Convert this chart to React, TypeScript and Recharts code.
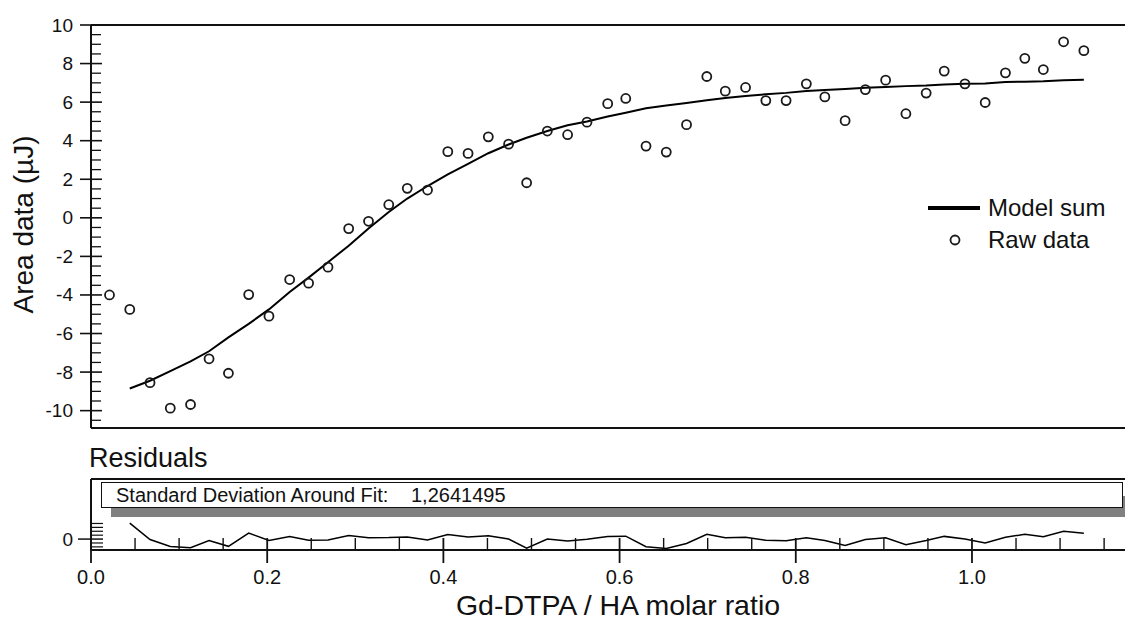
import React from 'react';
import {
  ComposedChart,
  LineChart,
  Line,
  Scatter,
  XAxis,
  YAxis,
  ReferenceLine,
  Legend,
} from 'recharts';

// ---------- data ----------
const ratioX = [
  0.021, 0.044, 0.067, 0.09, 0.113, 0.134, 0.156, 0.179, 0.202, 0.2255,
  0.247, 0.269, 0.2925, 0.315, 0.338, 0.359, 0.382, 0.405, 0.428, 0.451,
  0.474, 0.4945, 0.518, 0.541, 0.563, 0.5865, 0.607, 0.63, 0.653, 0.676,
  0.699, 0.72, 0.743, 0.766, 0.789, 0.812, 0.833, 0.856, 0.879, 0.902,
  0.925, 0.948, 0.9685, 0.992, 1.015, 1.038, 1.06, 1.081, 1.104, 1.127,
];

const rawArea = [
  -4.0, -4.75, -8.55, -9.87, -9.68, -7.31, -8.06, -3.98, -5.1, -3.2,
  -3.39, -2.56, -0.56, -0.18, 0.68, 1.53, 1.44, 3.43, 3.34, 4.2,
  3.82, 1.82, 4.5, 4.31, 4.96, 5.92, 6.19, 3.72, 3.41, 4.83,
  7.33, 6.57, 6.76, 6.08, 6.08, 6.95, 6.27, 5.04, 6.65, 7.14,
  5.4, 6.47, 7.61, 6.95, 5.98, 7.52, 8.27, 7.69, 9.13, 8.67,
];

const modelSum = [
  null, -8.85, -8.45, -7.95, -7.45, -6.92, -6.2, -5.5, -4.75, -3.85,
  -3.1, -2.3, -1.45, -0.55, 0.3, 1.0, 1.65, 2.25, 2.8, 3.35,
  3.8, 4.15, 4.5, 4.8, 5.0, 5.25, 5.45, 5.68, 5.82, 5.95,
  6.1, 6.22, 6.32, 6.41, 6.48, 6.58, 6.63, 6.68, 6.75, 6.79,
  6.83, 6.86, 6.92, 6.95, 6.97, 7.04, 7.06, 7.08, 7.14, 7.16,
];

const residuals = [
  null, 4.1, -0.1, -1.92, -2.23, -0.39, -1.86, 1.52, -0.35, 0.65,
  -0.29, -0.26, 0.89, 0.37, 0.38, 0.53, -0.21, 1.18, 0.54, 0.85,
  0.02, -2.33, 0, -0.49, -0.04, 0.67, 0.74, -1.96, -2.41, -1.12,
  1.23, 0.35, 0.44, -0.33, -0.4, 0.37, -0.36, -1.64, -0.1, 0.35,
  -1.43, -0.39, 0.69, 0, -0.99, 0.48, 1.21, 0.61, 1.99, 1.51,
];

const yMajorTicks = [-10, -8, -6, -4, -2, 0, 2, 4, 6, 8, 10];
const yMinorTicks = [
  -10.5, -9.5, -9, -8.5, -7.5, -7, -6.5, -5.5, -5, -4.5, -3.5, -3, -2.5,
  -1.5, -1, -0.5, 0.5, 1, 1.5, 2.5, 3, 3.5, 4.5, 5, 5.5, 6.5, 7, 7.5, 8.5,
  9, 9.5,
];
const xMajorTicks = [0, 0.2, 0.4, 0.6, 0.8, 1.0];
const xMinorTicks = [
  0.05, 0.1, 0.15, 0.25, 0.3, 0.35, 0.45, 0.5, 0.55, 0.65, 0.7, 0.75, 0.85,
  0.9, 0.95, 1.05, 1.1, 1.15,
];
const resMajorTicks = [0];
const resMinorTicks = [-2, -1, 1, 2, 3, 4];

const xDomain = [0, 1.1737];
const yDomain = [-10.9, 10];
const resDomain = [-2.8, 15.4];

const sdLabel = 'Standard Deviation Around Fit:';
const sdValue = '1,2641495';

const mainRows = ratioX.map((x, i) => ({ x, raw: rawArea[i], model: modelSum[i] }));
const resRows = ratioX.map((x, i) => ({ x, res: residuals[i] }));

// ---------- styling helpers ----------
const FONT = "'Liberation Sans', Arial, Helvetica, sans-serif";
const INK = '#111';
const has = (arr: number[], v: number) => arr.some((m) => Math.abs(m - v) < 1e-9);

const MainYTick = (props: any) => {
  const { x, y, payload } = props;
  const ax = x + 18;
  const v = payload.value;
  if (has(yMajorTicks, v)) {
    return (
      <g>
        <line x1={ax - 11} x2={ax + 11} y1={y} y2={y} stroke={INK} strokeWidth={1.6} />
        <text x={x} y={y} textAnchor="end" dominantBaseline="central" fontSize={19} fontFamily={FONT} fill={INK}>
          {String(v)}
        </text>
      </g>
    );
  }
  return <line x1={ax} x2={ax + 10} y1={y} y2={y} stroke={INK} strokeWidth={1.3} />;
};

const ResYTick = (props: any) => {
  const { x, y, payload } = props;
  const ax = x + 18;
  const v = payload.value;
  if (has(resMajorTicks, v)) {
    return (
      <g>
        <line x1={ax - 13} x2={ax + 12} y1={y} y2={y} stroke={INK} strokeWidth={1.5} />
        <text x={x} y={y} textAnchor="end" dominantBaseline="central" fontSize={19} fontFamily={FONT} fill={INK}>
          {String(v)}
        </text>
      </g>
    );
  }
  return <line x1={ax} x2={ax + 12} y1={y} y2={y} stroke={INK} strokeWidth={1.2} />;
};

const ResXTick = (props: any) => {
  const { x, y, payload } = props;
  const ay = y - 20;
  const v = payload.value;
  if (has(xMajorTicks, v)) {
    return (
      <g>
        <line x1={x} x2={x} y1={ay - 12} y2={ay + 13} stroke={INK} strokeWidth={1.8} />
        <text x={x} y={ay + 27} textAnchor="middle" dominantBaseline="central" fontSize={20} fontFamily={FONT} fill={INK}>
          {v.toFixed(1)}
        </text>
      </g>
    );
  }
  return <line x1={x} x2={x} y1={ay - 12} y2={ay} stroke={INK} strokeWidth={1.4} />;
};

const YTitle = (props: any) => {
  const vb = props.viewBox || { x: 0, y: 25, width: 91, height: 403 };
  const cx = vb.x + 23;
  const cy = vb.y + vb.height / 2 - 2;
  return (
    <text x={cx} y={cy} transform={`rotate(-90 ${cx} ${cy})`} textAnchor="middle" dominantBaseline="central" fontSize={28} fontFamily={FONT} fill={INK}>
      Area data (µJ)
    </text>
  );
};

const XTitle = (props: any) => {
  const vb = props.viewBox || { x: 91, y: 110, width: 1034, height: 81 };
  return (
    <text x={vb.x + vb.width / 2 + 10} y={vb.y + 65} textAnchor="middle" fontSize={28.5} fontFamily={FONT} fill={INK}>
      Gd-DTPA / HA molar ratio
    </text>
  );
};

const ResTitle = (props: any) => {
  const vb = props.viewBox || { x: 0, y: 39, width: 91, height: 71 };
  return (
    <text x={vb.x + vb.width - 2} y={vb.y - 12} textAnchor="start" fontSize={27} fontFamily={FONT} fill={INK}>
      Residuals
    </text>
  );
};

const RawCircle = (props: any) => {
  const { cx, cy } = props;
  if (cx == null || cy == null) return <g />;
  return <circle cx={cx} cy={cy} r={4.5} fill="none" stroke="#1a1a1a" strokeWidth={1.8} />;
};

const LegendBox = () => (
  <div style={{ fontFamily: FONT, fontSize: 24, color: INK, lineHeight: '32px' }}>
    <div style={{ display: 'flex', alignItems: 'center', height: 32 }}>
      <svg width={63} height={32}>
        <line x1={3} x2={55} y1={16} y2={16} stroke="#000" strokeWidth={4} />
      </svg>
      <span>Model sum</span>
    </div>
    <div style={{ display: 'flex', alignItems: 'center', height: 32 }}>
      <svg width={63} height={32}>
        <circle cx={30} cy={16} r={4.5} fill="none" stroke="#1a1a1a" strokeWidth={1.8} />
      </svg>
      <span>Raw data</span>
    </div>
  </div>
);

export default function App() {
  return (
    <div style={{ position: 'absolute', left: 0, top: 0, width: 1125, height: 631, background: '#fff', overflow: 'hidden' }}>
      <div style={{ position: 'absolute', left: 0, top: 0 }}>
        <ComposedChart width={1125} height={440} data={mainRows} margin={{ top: 25, right: 0, bottom: 12, left: 0 }}>
          <XAxis dataKey="x" type="number" domain={xDomain} allowDataOverflow hide />
          <YAxis
            type="number"
            domain={yDomain}
            allowDataOverflow
            width={91}
            ticks={[...yMajorTicks, ...yMinorTicks]}
            interval={0}
            tick={(p: any) => <MainYTick {...p} />}
            tickLine={false}
            tickSize={11}
            tickMargin={7}
            axisLine={{ stroke: INK, strokeWidth: 2 }}
            label={YTitle}
          />
          <ReferenceLine y={10} stroke={INK} strokeWidth={2} />
          <ReferenceLine y={-10.9} stroke={INK} strokeWidth={2} />
          <Line
            dataKey="model"
            type="linear"
            stroke="#000"
            strokeWidth={2}
            dot={false}
            activeDot={false}
            isAnimationActive={false}
            legendType="none"
          />
          <Scatter dataKey="raw" shape={RawCircle} isAnimationActive={false} legendType="none" />
          <Legend
            layout="vertical"
            align="center"
            verticalAlign="middle"
            wrapperStyle={{ left: 925, top: 192, width: 200 }}
            content={() => <LegendBox />}
          />
        </ComposedChart>
      </div>
      <div style={{ position: 'absolute', left: 0, top: 440 }}>
        <LineChart width={1125} height={191} data={resRows} margin={{ top: 39, right: 0, bottom: 0, left: 0 }}>
          <XAxis
            dataKey="x"
            type="number"
            domain={xDomain}
            allowDataOverflow
            ticks={[...xMajorTicks, ...xMinorTicks]}
            interval={0}
            tick={(p: any) => <ResXTick {...p} />}
            tickLine={false}
            tickSize={13}
            tickMargin={7}
            height={81}
            axisLine={{ stroke: INK, strokeWidth: 2 }}
            label={XTitle}
          />
          <YAxis
            type="number"
            domain={resDomain}
            allowDataOverflow
            width={91}
            ticks={[...resMajorTicks, ...resMinorTicks]}
            interval={0}
            tick={(p: any) => <ResYTick {...p} />}
            tickLine={false}
            tickSize={13}
            tickMargin={5}
            axisLine={{ stroke: INK, strokeWidth: 2 }}
            label={ResTitle}
          />
          <ReferenceLine y={15.4} stroke={INK} strokeWidth={2} />
          <Line
            dataKey="res"
            type="linear"
            stroke="#000"
            strokeWidth={1.5}
            dot={false}
            activeDot={false}
            isAnimationActive={false}
          />
        </LineChart>
      </div>
      <div style={{ position: 'absolute', left: 111, top: 496, width: 1014, height: 21, background: '#808080' }} />
      <div
        style={{
          position: 'absolute',
          left: 101,
          top: 482,
          width: 1022,
          height: 26,
          boxSizing: 'border-box',
          border: '1.5px solid #111',
          background: '#fff',
          fontFamily: FONT,
          fontSize: 20,
          color: INK,
          display: 'flex',
          alignItems: 'center',
        }}
      >
        <span style={{ position: 'absolute', left: 14 }}>{sdLabel}</span>
        <span style={{ position: 'absolute', left: 309 }}>{sdValue}</span>
      </div>
    </div>
  );
}
